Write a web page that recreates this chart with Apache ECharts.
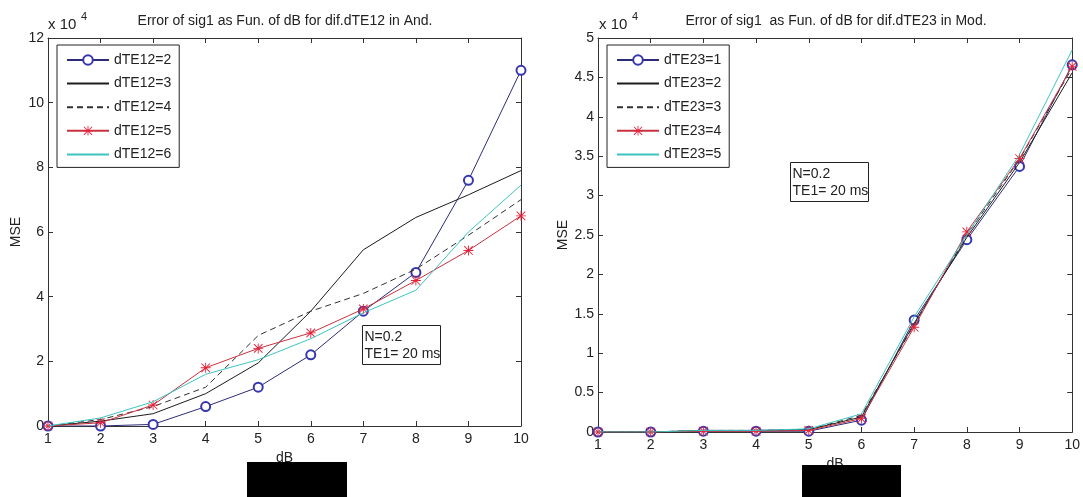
<!DOCTYPE html>
<html>
<head>
<meta charset="utf-8">
<title>Error of sig1 as Fun. of dB</title>
<script src="https://cdn.jsdelivr.net/npm/echarts@6/dist/echarts.min.js"></script>
<style>
  html, body { margin: 0; padding: 0; background: #fff; }
  #chart { width: 1083px; height: 497px; }
</style>
</head>
<body>
<div id="chart"></div>
<script>
// x positions (dB)
const dB = [1, 2, 3, 4, 5, 6, 7, 8, 9, 10];

// Left panel: MSE (x 10^4) for different dTE12 in And.
const andNames = ['dTE12=2', 'dTE12=3', 'dTE12=4', 'dTE12=5', 'dTE12=6'];
const and_dTE12_2 = [0, 0, 0.05, 0.6, 1.2, 2.2, 3.55, 4.75, 7.6, 11.0];
const and_dTE12_3 = [0, 0.15, 0.38, 1.0, 1.95, 3.55, 5.45, 6.45, 7.15, 7.9];
const and_dTE12_4 = [0, 0.2, 0.6, 1.2, 2.8, 3.55, 4.1, 4.85, 5.9, 7.0];
const and_dTE12_5 = [0, 0.1, 0.65, 1.8, 2.4, 2.88, 3.62, 4.5, 5.43, 6.5];
const and_dTE12_6 = [0, 0.25, 0.75, 1.6, 2.05, 2.7, 3.5, 4.2, 6.0, 7.45];

// Right panel: MSE (x 10^4) for different dTE23 in Mod.
const modNames = ['dTE23=1', 'dTE23=2', 'dTE23=3', 'dTE23=4', 'dTE23=5'];
const mod_dTE23_1 = [0, 0, 0.01, 0.01, 0.01, 0.15, 1.42, 2.44, 3.37, 4.66];
const mod_dTE23_2 = [0, 0, 0.02, 0.02, 0.03, 0.19, 1.38, 2.47, 3.42, 4.56];
const mod_dTE23_3 = [0, 0, 0.02, 0.02, 0.03, 0.21, 1.36, 2.5, 3.46, 4.62];
const mod_dTE23_4 = [0, 0, 0.01, 0.01, 0.02, 0.17, 1.33, 2.54, 3.47, 4.64];
const mod_dTE23_5 = [0, 0, 0.02, 0.02, 0.04, 0.23, 1.46, 2.5, 3.52, 4.85];

const leftYTicks = { min: 0, max: 12, interval: 2 };
const rightYTicks = { min: 0, max: 5, interval: 0.5 };

const FONT = '"Liberation Sans", Arial, Helvetica, sans-serif';
const INK = '#222';

// MATLAB-style asterisk marker
const ASTERISK = 'path://M9.1,0H10.9V20H9.1Z M0,9.1H20V10.9H0Z ' +
  'M2.1,0.8L19.2,17.9L17.9,19.2L0.8,2.1Z M17.9,0.8L19.2,2.1L2.1,19.2L0.8,17.9Z';

const pairs = ys => dB.map((x, i) => [x, ys[i]]);

const styles = [
  { color: '#2c2c78', symbol: 'emptyCircle', symbolSize: 9, marker: '#3636b0', type: 'solid' },
  { color: '#1c1c1c', symbol: 'none', type: 'solid' },
  { color: '#303030', symbol: 'none', type: [6, 4] },
  { color: '#c8323f', symbol: ASTERISK, symbolSize: 10, marker: '#e3233a', type: 'solid' },
  { color: '#3cc4c0', symbol: 'none', type: 'solid' }
];

function makeSeries(names, values, axisIndex) {
  return names.map((name, k) => {
    const st = styles[k];
    const mark = st.marker || st.color;
    return {
      name: name,
      type: 'line',
      xAxisIndex: axisIndex * 2,
      yAxisIndex: axisIndex * 2,
      data: pairs(values[k]),
      animation: false,
      lineStyle: { color: st.color, width: 1, type: st.type },
      itemStyle: { color: mark, borderWidth: 1 },
      symbol: st.symbol,
      showSymbol: st.symbol !== 'none',
      symbolSize: st.symbolSize || 4,
      z: 2 + k
    };
  });
}

// legend entries: lines without markers get an invisible icon symbol
function legendData(names) {
  return names.map((name, k) => styles[k].symbol === 'none'
    ? { name: name, itemStyle: { opacity: 0 } }
    : { name: name });
}

function xAxes(gridIndex) {
  const base = {
    gridIndex: gridIndex,
    type: 'value',
    min: 1, max: 10, interval: 1,
    splitLine: { show: false },
    axisLine: { show: true, onZero: false, lineStyle: { color: '#333', width: 1 } },
    axisTick: { show: true, inside: true, length: 5, lineStyle: { color: '#333' } }
  };
  return [
    Object.assign({}, base, {
      position: 'bottom',
      name: 'dB', nameLocation: 'middle', nameGap: 24,
      nameTextStyle: { fontFamily: FONT, fontSize: 14, color: INK },
      axisLabel: { fontFamily: FONT, fontSize: 14, color: INK, margin: 6 }
    }),
    Object.assign({}, base, { position: 'top', axisLabel: { show: false } })
  ];
}

function yAxes(gridIndex, ticks, gap) {
  const base = {
    gridIndex: gridIndex,
    type: 'value',
    min: ticks.min, max: ticks.max, interval: ticks.interval,
    splitLine: { show: false },
    axisLine: { show: true, onZero: false, lineStyle: { color: '#333', width: 1 } },
    axisTick: { show: true, inside: true, length: 5, lineStyle: { color: '#333' } }
  };
  return [
    Object.assign({}, base, {
      position: 'left',
      name: 'MSE', nameLocation: 'middle', nameGap: gap,
      nameTextStyle: { fontFamily: FONT, fontSize: 14, color: INK },
      axisLabel: { fontFamily: FONT, fontSize: 14, color: INK, margin: 4 }
    }),
    Object.assign({}, base, { position: 'right', axisLabel: { show: false } })
  ];
}

function legend(names, left) {
  return {
    data: legendData(names),
    orient: 'vertical',
    left: left, top: 45,
    itemWidth: 42, itemHeight: 12, itemGap: 9.6,
    padding: [8, 8, 6, 9],
    borderColor: '#222', borderWidth: 1,
    backgroundColor: '#fff',
    selectedMode: false,
    textStyle: { fontFamily: FONT, fontSize: 14, color: INK, lineHeight: 12 }
  };
}

function noteBox(x, y) {
  return {
    type: 'group', left: x, top: y, z: 10,
    children: [
      { type: 'rect', shape: { x: 0, y: 0, width: 78, height: 39 },
        style: { fill: '#fff', stroke: '#222', lineWidth: 1 } },
      { type: 'text', x: 2, y: 3,
        style: { text: 'N=0.2\nTE1= 20 ms', fontFamily: FONT, fontSize: 14,
                 lineHeight: 17, fill: INK } }
    ]
  };
}

function exponent(x) {
  return [
    { type: 'text', x: x, y: 25, style: { text: 'x 10', fontFamily: FONT, fontSize: 15,
      fill: INK, verticalAlign: 'middle' } },
    { type: 'text', x: x + 33, y: 17, style: { text: '4', fontFamily: FONT, fontSize: 11,
      fill: INK, verticalAlign: 'middle' } }
  ];
}

function titleText(x, text) {
  return { type: 'text', x: x, y: 21, style: { text: text, fontFamily: FONT, fontSize: 14,
    fill: INK, align: 'center', verticalAlign: 'middle' } };
}

const option = {
  backgroundColor: '#fff',
  animation: false,
  grid: [
    { left: 48, top: 38, width: 473, height: 388 },
    { left: 598, top: 38, width: 475, height: 394 }
  ],
  xAxis: xAxes(0).concat(xAxes(1)),
  yAxis: yAxes(0, leftYTicks, 25).concat(yAxes(1, rightYTicks, 23)),
  legend: [legend(andNames, 57), legend(modNames, 607)],
  series: makeSeries(andNames,
      [and_dTE12_2, and_dTE12_3, and_dTE12_4, and_dTE12_5, and_dTE12_6], 0)
    .concat(makeSeries(modNames,
      [mod_dTE23_1, mod_dTE23_2, mod_dTE23_3, mod_dTE23_4, mod_dTE23_5], 1)),
  graphic: [
    titleText(285, 'Error of sig1 as Fun. of dB for dif.dTE12 in And.'),
    titleText(836, 'Error of sig1  as Fun. of dB for dif.dTE23 in Mod.'),
    ...exponent(48),
    ...exponent(599),
    noteBox(362, 325),
    noteBox(790, 162),
    { type: 'rect', z: 20, shape: { x: 247, y: 462, width: 100, height: 35 }, style: { fill: '#000' } },
    { type: 'rect', z: 20, shape: { x: 802, y: 465, width: 99, height: 32 }, style: { fill: '#000' } }
  ]
};

const chart = echarts.init(document.getElementById('chart'), null, { renderer: 'canvas' });
chart.setOption(option);
</script>
</body>
</html>
